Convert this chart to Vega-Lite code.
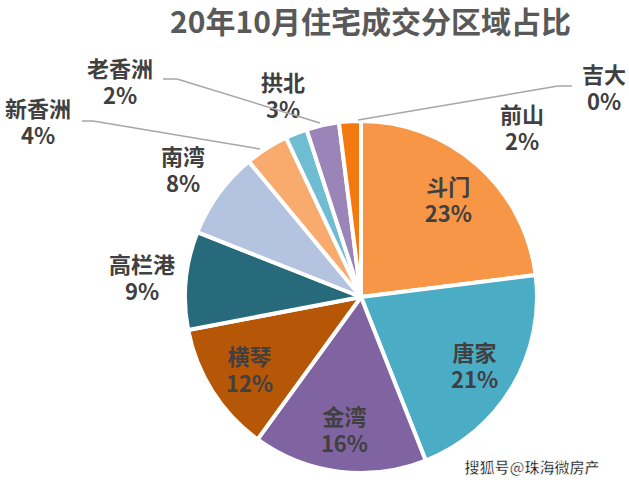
{
  "$schema": "https://vega.github.io/schema/vega-lite/v6.json",
  "width": 629,
  "height": 440,
  "autosize": {"type": "none"},
  "padding": {"left": 0, "top": 45, "right": 0, "bottom": 0},
  "background": "white",
  "title": {
    "text": "20年10月住宅成交分区域占比",
    "font": "Noto Sans CJK SC",
    "fontSize": 30,
    "fontWeight": "bold",
    "color": "#595959",
    "anchor": "middle",
    "dx": 56,
    "offset": 6
  },
  "data": {
    "values": [
      {"region": "斗门", "share": 23},
      {"region": "唐家", "share": 21},
      {"region": "金湾", "share": 16},
      {"region": "横琴", "share": 12},
      {"region": "高栏港", "share": 9},
      {"region": "南湾", "share": 8},
      {"region": "新香洲", "share": 4},
      {"region": "老香洲", "share": 2},
      {"region": "拱北", "share": 3},
      {"region": "前山", "share": 2},
      {"region": "吉大", "share": 0}
    ]
  },
  "transform": [
    {"window": [{"op": "row_number", "as": "rank"}]},
    {"calculate": "[datum.region, datum.share + '%']", "as": "label"}
  ],
  "layer": [
    {
      "mark": {"type": "arc", "outerRadius": 176, "stroke": "white", "strokeWidth": 4, "strokeJoin": "round"},
      "encoding": {
        "x": {"datum": 0, "type": "quantitative", "scale": {"domain": [-2.0629, 1.5314], "nice": false, "zero": false}, "axis": null},
        "y": {"datum": 0, "type": "quantitative", "scale": {"domain": [-1.0743, 1.44], "nice": false, "zero": false}, "axis": null},
        "theta": {"field": "share", "type": "quantitative", "stack": true},
        "order": {"field": "rank", "type": "quantitative"},
        "color": {
          "field": "region",
          "type": "nominal",
          "legend": null,
          "scale": {
            "domain": ["斗门", "唐家", "金湾", "横琴", "高栏港", "南湾", "新香洲", "老香洲", "拱北", "前山", "吉大"],
            "range": ["#F79646", "#4BACC6", "#8064A2", "#B65708", "#276A7C", "#B4C3DF", "#F9AB6D", "#6EBDD1", "#9B84B8", "#F47A10", "#2A8296"]
          }
        }
      }
    },
    {
      "mark": {"type": "text", "radius": 132, "dy": -10, "font": "Noto Sans CJK SC", "fontSize": 22, "fontWeight": "bold", "color": "#404040", "lineHeight": 27, "align": "center", "baseline": "middle"},
      "encoding": {
        "x": {"datum": 0, "type": "quantitative", "scale": {"domain": [-2.0629, 1.5314], "nice": false, "zero": false}, "axis": null},
        "y": {"datum": 0, "type": "quantitative", "scale": {"domain": [-1.0743, 1.44], "nice": false, "zero": false}, "axis": null},
        "theta": {"field": "share", "type": "quantitative", "stack": true},
        "order": {"field": "rank", "type": "quantitative"},
        "text": {"condition": {"test": "indexof(['斗门','唐家','金湾','横琴'], datum.region) >= 0", "field": "label"}, "value": ""}
      }
    },
    {
      "mark": {"type": "text", "radius": 220, "dy": -10, "font": "Noto Sans CJK SC", "fontSize": 22, "fontWeight": "bold", "color": "#404040", "lineHeight": 27, "align": "center", "baseline": "middle"},
      "encoding": {
        "x": {"datum": 0, "type": "quantitative", "scale": {"domain": [-2.0629, 1.5314], "nice": false, "zero": false}, "axis": null},
        "y": {"datum": 0, "type": "quantitative", "scale": {"domain": [-1.0743, 1.44], "nice": false, "zero": false}, "axis": null},
        "theta": {"field": "share", "type": "quantitative", "stack": true},
        "order": {"field": "rank", "type": "quantitative"},
        "text": {"condition": {"test": "indexof(['高栏港','南湾'], datum.region) >= 0", "field": "label"}, "value": ""}
      }
    },
    {
      "transform": [{"filter": "datum.region === '新香洲'"}],
      "mark": {"type": "text", "dy": -10, "font": "Noto Sans CJK SC", "fontSize": 22, "fontWeight": "bold", "color": "#404040", "lineHeight": 27, "align": "center", "baseline": "middle"},
      "encoding": {
        "x": {"datum": -1.8457, "type": "quantitative", "scale": {"domain": [-2.0629, 1.5314], "nice": false, "zero": false}, "axis": null},
        "y": {"datum": 1.0114, "type": "quantitative", "scale": {"domain": [-1.0743, 1.44], "nice": false, "zero": false}, "axis": null},
        "text": {"field": "label"}
      }
    },
    {
      "transform": [{"filter": "datum.region === '老香洲'"}],
      "mark": {"type": "text", "dy": -10, "font": "Noto Sans CJK SC", "fontSize": 22, "fontWeight": "bold", "color": "#404040", "lineHeight": 27, "align": "center", "baseline": "middle"},
      "encoding": {
        "x": {"datum": -1.3771, "type": "quantitative", "scale": {"domain": [-2.0629, 1.5314], "nice": false, "zero": false}, "axis": null},
        "y": {"datum": 1.24, "type": "quantitative", "scale": {"domain": [-1.0743, 1.44], "nice": false, "zero": false}, "axis": null},
        "text": {"field": "label"}
      }
    },
    {
      "transform": [{"filter": "datum.region === '拱北'"}],
      "mark": {"type": "text", "dy": -10, "font": "Noto Sans CJK SC", "fontSize": 22, "fontWeight": "bold", "color": "#404040", "lineHeight": 27, "align": "center", "baseline": "middle"},
      "encoding": {
        "x": {"datum": -0.4457, "type": "quantitative", "scale": {"domain": [-2.0629, 1.5314], "nice": false, "zero": false}, "axis": null},
        "y": {"datum": 1.16, "type": "quantitative", "scale": {"domain": [-1.0743, 1.44], "nice": false, "zero": false}, "axis": null},
        "text": {"field": "label"}
      }
    },
    {
      "transform": [{"filter": "datum.region === '前山'"}],
      "mark": {"type": "text", "dy": -10, "font": "Noto Sans CJK SC", "fontSize": 22, "fontWeight": "bold", "color": "#404040", "lineHeight": 27, "align": "center", "baseline": "middle"},
      "encoding": {
        "x": {"datum": 0.92, "type": "quantitative", "scale": {"domain": [-2.0629, 1.5314], "nice": false, "zero": false}, "axis": null},
        "y": {"datum": 0.977, "type": "quantitative", "scale": {"domain": [-1.0743, 1.44], "nice": false, "zero": false}, "axis": null},
        "text": {"field": "label"}
      }
    },
    {
      "transform": [{"filter": "datum.region === '吉大'"}],
      "mark": {"type": "text", "dy": -10, "font": "Noto Sans CJK SC", "fontSize": 22, "fontWeight": "bold", "color": "#404040", "lineHeight": 27, "align": "center", "baseline": "middle"},
      "encoding": {
        "x": {"datum": 1.3886, "type": "quantitative", "scale": {"domain": [-2.0629, 1.5314], "nice": false, "zero": false}, "axis": null},
        "y": {"datum": 1.2057, "type": "quantitative", "scale": {"domain": [-1.0743, 1.44], "nice": false, "zero": false}, "axis": null},
        "text": {"field": "label"}
      }
    },
    {
      "transform": [{"filter": "datum.region === '新香洲'"}],
      "mark": {"type": "rule", "color": "#A6A6A6", "strokeWidth": 1.5},
      "encoding": {
        "x": {"datum": -1.5943, "type": "quantitative", "scale": {"domain": [-2.0629, 1.5314], "nice": false, "zero": false}, "axis": null},
        "y": {"datum": 1.0057, "type": "quantitative", "scale": {"domain": [-1.0743, 1.44], "nice": false, "zero": false}, "axis": null},
        "x2": {"datum": -1.5314},
        "y2": {"datum": 1.0057}
      }
    },
    {
      "transform": [{"filter": "datum.region === '新香洲'"}],
      "mark": {"type": "rule", "color": "#A6A6A6", "strokeWidth": 1.5},
      "encoding": {
        "x": {"datum": -1.5314, "type": "quantitative", "scale": {"domain": [-2.0629, 1.5314], "nice": false, "zero": false}, "axis": null},
        "y": {"datum": 1.0057, "type": "quantitative", "scale": {"domain": [-1.0743, 1.44], "nice": false, "zero": false}, "axis": null},
        "x2": {"datum": -0.5771},
        "y2": {"datum": 0.8457}
      }
    },
    {
      "transform": [{"filter": "datum.region === '老香洲'"}],
      "mark": {"type": "rule", "color": "#A6A6A6", "strokeWidth": 1.5},
      "encoding": {
        "x": {"datum": -1.1314, "type": "quantitative", "scale": {"domain": [-2.0629, 1.5314], "nice": false, "zero": false}, "axis": null},
        "y": {"datum": 1.2457, "type": "quantitative", "scale": {"domain": [-1.0743, 1.44], "nice": false, "zero": false}, "axis": null},
        "x2": {"datum": -1.0514},
        "y2": {"datum": 1.2457}
      }
    },
    {
      "transform": [{"filter": "datum.region === '老香洲'"}],
      "mark": {"type": "rule", "color": "#A6A6A6", "strokeWidth": 1.5},
      "encoding": {
        "x": {"datum": -1.0514, "type": "quantitative", "scale": {"domain": [-2.0629, 1.5314], "nice": false, "zero": false}, "axis": null},
        "y": {"datum": 1.2457, "type": "quantitative", "scale": {"domain": [-1.0743, 1.44], "nice": false, "zero": false}, "axis": null},
        "x2": {"datum": -0.2343},
        "y2": {"datum": 0.9943}
      }
    },
    {
      "transform": [{"filter": "datum.region === '吉大'"}],
      "mark": {"type": "rule", "color": "#A6A6A6", "strokeWidth": 1.5},
      "encoding": {
        "x": {"datum": 1.2057, "type": "quantitative", "scale": {"domain": [-2.0629, 1.5314], "nice": false, "zero": false}, "axis": null},
        "y": {"datum": 1.2057, "type": "quantitative", "scale": {"domain": [-1.0743, 1.44], "nice": false, "zero": false}, "axis": null},
        "x2": {"datum": 1.1257},
        "y2": {"datum": 1.2057}
      }
    },
    {
      "transform": [{"filter": "datum.region === '吉大'"}],
      "mark": {"type": "rule", "color": "#A6A6A6", "strokeWidth": 1.5},
      "encoding": {
        "x": {"datum": 1.1257, "type": "quantitative", "scale": {"domain": [-2.0629, 1.5314], "nice": false, "zero": false}, "axis": null},
        "y": {"datum": 1.2057, "type": "quantitative", "scale": {"domain": [-1.0743, 1.44], "nice": false, "zero": false}, "axis": null},
        "x2": {"datum": -0.0171},
        "y2": {"datum": 1.0114}
      }
    },
    {
      "transform": [{"filter": "datum.region === '吉大'"}],
      "mark": {"type": "text", "text": "搜狐号@珠海微房产", "font": "Noto Sans CJK SC", "fontSize": 15, "fontWeight": "bold", "color": "#1A1A1A", "stroke": "white", "strokeWidth": 0.6, "align": "center", "baseline": "middle"},
      "encoding": {
        "x": {"datum": 0.977, "type": "quantitative", "scale": {"domain": [-2.0629, 1.5314], "nice": false, "zero": false}, "axis": null},
        "y": {"datum": -0.9771, "type": "quantitative", "scale": {"domain": [-1.0743, 1.44], "nice": false, "zero": false}, "axis": null}
      }
    }
  ],
  "config": {"view": {"stroke": null}}
}
